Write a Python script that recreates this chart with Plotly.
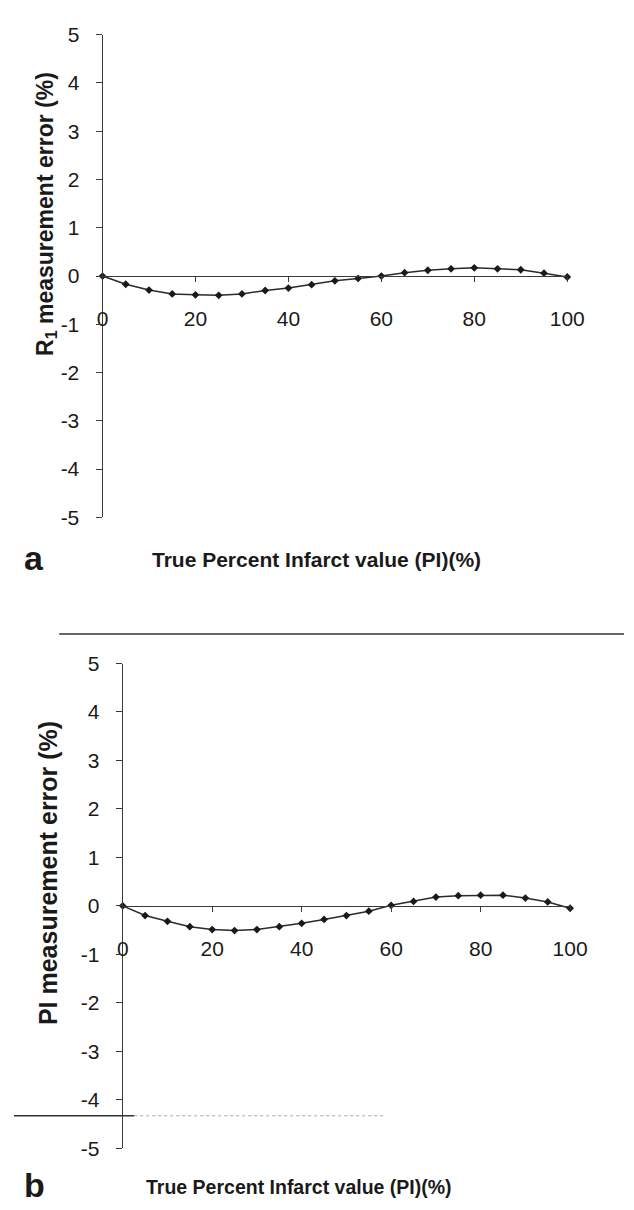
import plotly.graph_objects as go

# ---- data ----
true_pi = [0, 5, 10, 15, 20, 25, 30, 35, 40, 45, 50, 55, 60, 65, 70, 75, 80, 85, 90, 95, 100]
r1_error = [0.0, -0.17, -0.29, -0.37, -0.39, -0.40, -0.37, -0.30, -0.25, -0.18, -0.10, -0.05,
            0.0, 0.07, 0.12, 0.15, 0.17, 0.15, 0.13, 0.06, -0.02]
pi_error = [0.0, -0.20, -0.32, -0.43, -0.49, -0.51, -0.49, -0.43, -0.36, -0.28, -0.20, -0.11,
            0.01, 0.09, 0.18, 0.21, 0.22, 0.22, 0.16, 0.08, -0.05]
x_ticks = [0, 20, 40, 60, 80, 100]
y_ticks = [-5, -4, -3, -2, -1, 0, 1, 2, 3, 4, 5]
y_tick_text = ["-5", "-4", "-3", "-2", "-1", "0", "1", "2", "3", "4", "5"]
x_title = "True Percent Infarct value (PI)(%)"
y_title_a = "R<sub>1</sub> measurement error (%)"
y_title_b = "PI measurement error (%)"

W, H = 634, 1210
FONT = "Arial, Liberation Sans, sans-serif"
INK = "#1a1a1a"
AX = "#3a3a3a"


def px(x):
    return x / W


def py(y):
    return 1 - y / H


top_dom = [py(507), py(15)]
bot_dom = [py(1150), py(656)]

fig = go.Figure()
for y_vals, xa, ya in [(r1_error, "x", "y"), (pi_error, "x2", "y2")]:
    fig.add_trace(go.Scatter(
        x=true_pi, y=y_vals, xaxis=xa, yaxis=ya, mode="lines+markers",
        line=dict(color="#2a2a2a", width=1.5),
        marker=dict(symbol="diamond", size=6, color=INK),
        cliponaxis=False, hoverinfo="skip"))

xcommon = dict(range=[0, 100], tickvals=x_ticks, ticks="outside", ticklen=5, tickwidth=1,
               tickcolor=AX, showline=True, linecolor=AX, linewidth=1, showgrid=False,
               zeroline=False, ticklabelstandoff=19,
               tickfont=dict(family=FONT, size=21, color=INK))
ycommon = dict(range=[-5, 5], tickvals=y_ticks, ticktext=y_tick_text, ticks="outside",
               ticklen=6, tickwidth=1, tickcolor=AX, showline=True, linecolor=AX,
               linewidth=1, showgrid=False, zeroline=False, ticklabelstandoff=12,
               tickfont=dict(family=FONT, size=21, color=INK))

fig.update_layout(
    width=W, height=H, margin=dict(l=0, r=0, t=0, b=0),
    paper_bgcolor="white", plot_bgcolor="white", showlegend=False,
    xaxis=dict(domain=[px(92), px(575)], anchor="free", position=sum(top_dom) / 2, **xcommon),
    yaxis=dict(domain=top_dom, anchor="x", **ycommon),
    xaxis2=dict(domain=[px(113), px(578)], anchor="free", position=sum(bot_dom) / 2, **xcommon),
    yaxis2=dict(domain=bot_dom, anchor="x2", **ycommon),
)

annots = [
    dict(text=y_title_a, x=px(33), y=py(198), textangle=-90, size=23, bold=True),
    dict(text=y_title_b, x=px(36), y=py(870), textangle=-90, size=25, bold=True),
    dict(text=x_title, x=px(314), y=py(550), textangle=0, size=21, bold=True),
    dict(text=x_title, x=px(296), y=py(1190), textangle=0, size=19.5, bold=True),
    dict(text="a", x=px(21), y=py(548), textangle=0, size=34, bold=True),
    dict(text="b", x=px(21), y=py(1188), textangle=0, size=34, bold=True),
]
for a in annots:
    txt = f"<b>{a['text']}</b>" if a["bold"] else a["text"]
    fig.add_annotation(text=txt, x=a["x"], y=a["y"], xref="paper", yref="paper",
                       xanchor="center", yanchor="middle", showarrow=False,
                       textangle=a["textangle"],
                       font=dict(family=FONT, size=a["size"], color=INK))

# scan artefact rules between/below the panels
fig.add_shape(type="line", xref="paper", yref="paper", x0=px(47), x1=1, y0=py(626), y1=py(626),
              line=dict(color="#333", width=1.5))
fig.add_shape(type="line", xref="paper", yref="paper", x0=0, x1=px(125), y0=py(1117), y1=py(1117),
              line=dict(color="#333", width=1.5))
fig.add_shape(type="line", xref="paper", yref="paper", x0=px(125), x1=px(385), y0=py(1117), y1=py(1117),
              line=dict(color="#aaa", width=1, dash="dot"))

fig.write_html("out.html")
